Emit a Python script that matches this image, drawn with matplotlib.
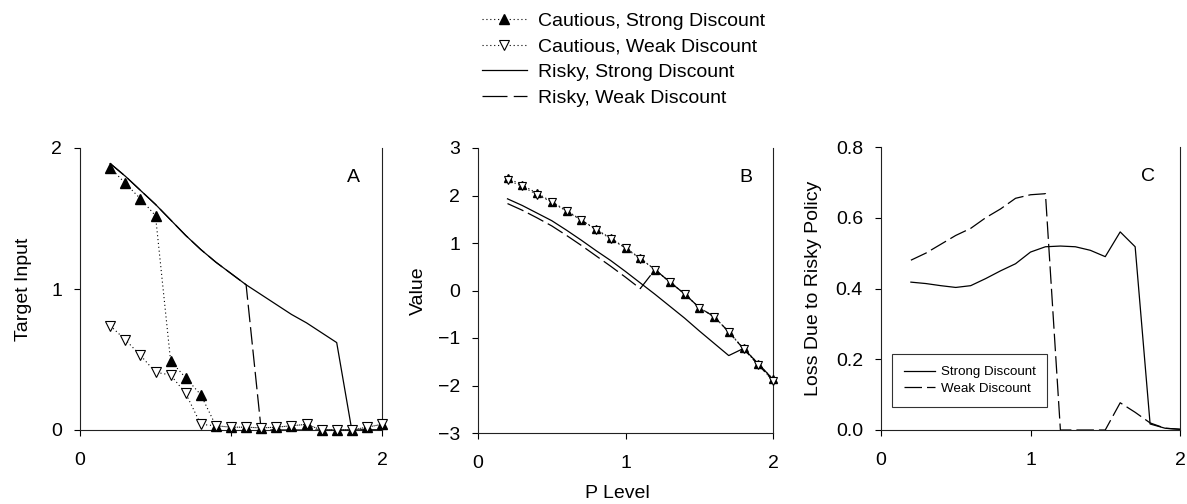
import matplotlib
matplotlib.use("Agg")
import matplotlib.pyplot as plt
from matplotlib.lines import Line2D

plt.rcParams['font.family'] = ['Liberation Sans', 'DejaVu Sans']
plt.rcParams['axes.unicode_minus'] = True

# ---------------- data ----------------
p_level = [0.2, 0.3, 0.4, 0.5, 0.6, 0.7, 0.8, 0.9, 1.0, 1.1,
           1.2, 1.3, 1.4, 1.5, 1.6, 1.7, 1.8, 1.9, 2.0]

# Panel A: target input
a_cautious_strong = [1.86, 1.75, 1.64, 1.52, 0.49, 0.37, 0.25, 0.03, 0.02, 0.02,
                     0.015, 0.02, 0.03, 0.04, 0.0, 0.0, 0.0, 0.02, 0.04]
a_cautious_weak = [0.74, 0.64, 0.53, 0.41, 0.39, 0.26, 0.04, 0.03, 0.02, 0.02,
                   0.015, 0.02, 0.03, 0.04, 0.0, 0.0, 0.0, 0.02, 0.04]
a_risky_strong = [1.89, 1.80, 1.70, 1.60, 1.49, 1.38, 1.28, 1.19, 1.11, 1.03,
                  0.96, 0.89, 0.82, 0.76, 0.69, 0.62, 0.0, 0.0, 0.0]
a_risky_weak = [1.89, 1.80, 1.70, 1.60, 1.49, 1.38, 1.28, 1.19, 1.11, 1.03,
                0.0, 0.0, 0.0, 0.0, 0.0, 0.0, 0.0, 0.0, 0.0]

# Panel B: value
b_cautious_strong = [2.37, 2.22, 2.05, 1.87, 1.68, 1.49, 1.29, 1.10, 0.90, 0.68,
                     0.44, 0.18, -0.07, -0.36, -0.55, -0.87, -1.22, -1.54, -1.87]
b_cautious_weak = [2.33, 2.19, 2.02, 1.86, 1.67, 1.48, 1.28, 1.09, 0.89, 0.67,
                   0.44, 0.18, -0.07, -0.36, -0.55, -0.87, -1.23, -1.56, -1.90]
b_risky_strong = [1.93, 1.79, 1.63, 1.47, 1.27, 1.06, 0.84, 0.63, 0.40, 0.16,
                  -0.08, -0.33, -0.58, -0.85, -1.11, -1.37, -1.22, -1.54, -1.87]
b_risky_weak = [1.83, 1.69, 1.53, 1.36, 1.16, 0.95, 0.73, 0.51, 0.28, 0.04,
                0.44, 0.18, -0.07, -0.36, -0.55, -0.87, -1.23, -1.56, -1.90]

# Panel C: loss due to risky policy
c_strong = [0.418, 0.414, 0.408, 0.403, 0.408, 0.428, 0.45, 0.47, 0.503, 0.518,
            0.52, 0.518, 0.508, 0.49, 0.56, 0.518, 0.017, 0.005, 0.002]
c_weak = [0.48, 0.50, 0.525, 0.55, 0.57, 0.60, 0.625, 0.655, 0.665, 0.668,
          0.0, 0.0, 0.0, 0.0, 0.077, 0.05, 0.02, 0.005, 0.002]

legend_labels = ["Cautious, Strong Discount", "Cautious, Weak Discount",
                 "Risky, Strong Discount", "Risky, Weak Discount"]
panel_letters = ["A", "B", "C"]

# ---------------- styles ----------------
DOT = (0, (1, 2.5))
DASH = (0, (14, 4))
FS = 14

fig = plt.figure(figsize=(11.87, 5.04), dpi=100)
W, H = 1187, 504
def axes_px(x0, x1, y0, y1):
    return fig.add_axes([x0 / W, 1 - y1 / H, (x1 - x0) / W, (y1 - y0) / H])

axA = axes_px(80, 382, 148, 430)
axB = axes_px(478, 773, 148, 433)
axC = axes_px(881, 1180, 147, 430)

def style(ax):
    ax.spines['top'].set_visible(False)
    for s in ['left', 'right', 'bottom']:
        ax.spines[s].set_linewidth(0.8)
        ax.spines[s].set_color('#222222')
    ax.tick_params(axis='both', direction='out', length=4, width=0.8,
                   labelsize=FS, colors='black')
    ax.tick_params(axis='x', pad=12)
    ax.tick_params(axis='y', pad=9)
    ax.set_xlim(0, 2)
    ax.set_xticks([0, 1, 2])
    ax.set_xticklabels(["0", "1", "2"])

# Panel A
ms_a = 6.5
axA.plot(p_level, a_risky_weak, color='black', lw=0.9, linestyle=DASH, zorder=2)
axA.plot(p_level, a_risky_strong, color='black', lw=0.9, zorder=3)
axA.plot(p_level, a_cautious_strong, color='black', lw=0.8, linestyle=DOT,
         marker='^', ms=ms_a, mfc='black', mec='black', zorder=4, clip_on=False)
axA.plot(p_level, a_cautious_weak, color='black', lw=0.8, linestyle=DOT,
         marker='v', ms=ms_a, mfc='white', mec='black', mew=0.8, zorder=5, clip_on=False)
style(axA)
axA.set_ylim(0, 2)
axA.set_yticks([0, 1, 2])
axA.set_yticklabels(["0", "1", "2"])
axA.set_ylabel("Target Input", fontsize=FS, labelpad=14)

# Panel B
ms_b = 5.5
axB.plot(p_level, b_risky_weak, color='black', lw=0.9, linestyle=DASH, zorder=2)
axB.plot(p_level, b_risky_strong, color='black', lw=0.9, zorder=3)
axB.plot(p_level, b_cautious_strong, color='black', lw=0.8, linestyle=DOT,
         marker='^', ms=ms_b, mfc='black', mec='black', zorder=4, clip_on=False)
axB.plot(p_level, b_cautious_weak, color='black', lw=0.8, linestyle=DOT,
         marker='v', ms=ms_b, mfc='white', mec='black', mew=0.8, zorder=5, clip_on=False)
style(axB)
axB.set_ylim(-3, 3)
axB.set_yticks([-3, -2, -1, 0, 1, 2, 3])
axB.set_ylabel("Value", fontsize=FS, labelpad=8)

# Panel C
lC1, = axC.plot(p_level, c_strong, color='black', lw=0.9, zorder=3)
lC2, = axC.plot(p_level, c_weak, color='black', lw=0.9, linestyle=DASH, zorder=2)
style(axC)
axC.set_ylim(0, 0.8)
axC.set_yticks([0.0, 0.2, 0.4, 0.6, 0.8])
axC.set_yticklabels(["0.0", "0.2", "0.4", "0.6", "0.8"])
axC.set_ylabel("Loss Due to Risky Policy", fontsize=FS, labelpad=10)
legC = axC.legend([lC1, lC2], ["Strong Discount", "Weak Discount"],
                  loc='lower left', bbox_to_anchor=(0.037, 0.082, 0.518, 0.198),
                  mode='expand', fontsize=9.6, frameon=True, fancybox=False,
                  edgecolor='black', handlelength=2.3, handletextpad=0.5,
                  borderpad=0.9, labelspacing=0.3, borderaxespad=0)
legC.get_frame().set_linewidth(0.8)

# Panel letters
for ax, letter, xf in zip([axA, axB, axC], panel_letters, [0.904, 0.908, 0.893]):
    ax.text(xf, 0.897, letter, transform=ax.transAxes, fontsize=FS,
            ha='center', va='center')

# Shared x label
fig.text(617 / W, 1 - 493 / H, "P Level", fontsize=FS, ha='center', va='center')

# Top legend
handles = [
    Line2D([], [], color='black', lw=0.8, linestyle=DOT, marker='^', ms=6.5,
           mfc='black', mec='black'),
    Line2D([], [], color='black', lw=0.8, linestyle=DOT, marker='v', ms=6.5,
           mfc='white', mec='black', mew=0.8),
    Line2D([], [], color='black', lw=0.9),
    Line2D([], [], color='black', lw=0.9, linestyle=(0, (20, 5))),
]
leg = fig.legend(handles, legend_labels, loc='upper left',
                 bbox_to_anchor=(482 / W, 1 - 12 / H), frameon=False,
                 fontsize=FS, handlelength=2.3, handletextpad=0.6,
                 labelspacing=0.42, borderaxespad=0, borderpad=0)

fig.savefig("out.png", dpi=100)
